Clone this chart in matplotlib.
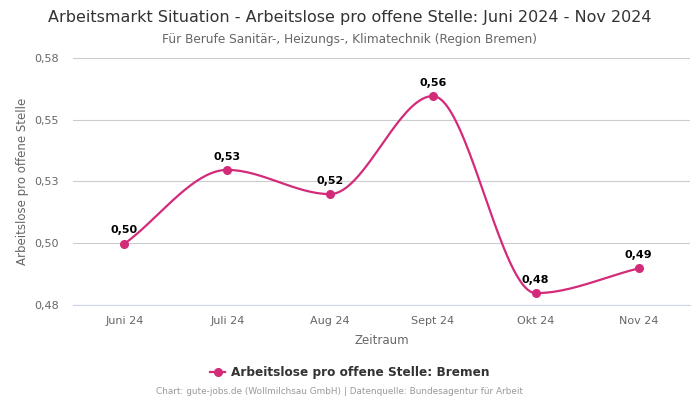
import numpy as np
import matplotlib
matplotlib.use("Agg")
import matplotlib.pyplot as plt
from matplotlib.lines import Line2D

# data
months = ["Juni 24", "Juli 24", "Aug 24", "Sept 24", "Okt 24", "Nov 24"]
values = [0.5048, 0.5347, 0.5249, 0.5646, 0.4848, 0.4948]
ytick_vals = [0.48, 0.505, 0.53, 0.555, 0.58]
ytick_labels = ["0,48", "0,50", "0,53", "0,55", "0,58"]

line_col = "#d42a7a"


def monotone_curve(x, y, n=40):
    # monotone cubic (Fritsch-Carlson) like d3 curveMonotoneX
    x = np.asarray(x, float)
    y = np.asarray(y, float)
    h = np.diff(x)
    d = np.diff(y) / h
    m = np.zeros_like(y)
    m[0], m[-1] = d[0], d[-1]
    for i in range(1, len(y) - 1):
        if d[i - 1] * d[i] <= 0:
            m[i] = 0
        else:
            m[i] = 3 * (h[i - 1] + h[i]) / ((2 * h[i] + h[i - 1]) / d[i - 1] + (h[i] + 2 * h[i - 1]) / d[i])
    xs, ys = [], []
    for i in range(len(x) - 1):
        t = np.linspace(0, 1, n)
        h00 = 2 * t**3 - 3 * t**2 + 1
        h10 = t**3 - 2 * t**2 + t
        h01 = -2 * t**3 + 3 * t**2
        h11 = t**3 - t**2
        xs.append(x[i] + t * h[i])
        ys.append(h00 * y[i] + h10 * h[i] * m[i] + h01 * y[i + 1] + h11 * h[i] * m[i + 1])
    return np.concatenate(xs), np.concatenate(ys)


fig = plt.figure(figsize=(7, 4), dpi=100)
ax = fig.add_axes([0.1043, 0.2375, 0.8814, 0.6175])

xpos = np.arange(len(months))
cx, cy = monotone_curve(xpos, values)
ax.plot(cx, cy, color=line_col, lw=1.6, zorder=3)
ax.plot(xpos, values, "o", color=line_col, ms=5.5, zorder=4)

for x, v in zip(xpos, values):
    ax.annotate(f"{v:.2f}".replace(".", ","), (x, v), xytext=(0, 6), textcoords="offset points",
                ha="center", va="bottom", fontsize=8, fontweight="bold", color="black")

ax.set_xlim(-0.5, len(months) - 0.5)
ax.set_ylim(0.48, 0.58)
ax.set_xticks(xpos)
ax.set_xticklabels(months)
ax.set_yticks(ytick_vals)
ax.set_yticklabels(ytick_labels)
ax.tick_params(axis="both", length=0, labelsize=8, labelcolor="#666666")
ax.tick_params(axis="x", pad=8)
ax.tick_params(axis="y", pad=10)
ax.grid(axis="y", color="#cccccc", lw=0.8)
ax.set_axisbelow(True)
for s in ["top", "right", "left"]:
    ax.spines[s].set_visible(False)
ax.spines["bottom"].set_color("#ccd6eb")
ax.spines["bottom"].set_linewidth(0.8)

ax.set_xlabel("Zeitraum", fontsize=8.5, color="#666666", labelpad=6)
ax.set_ylabel("Arbeitslose pro offene Stelle", fontsize=8.5, color="#666666", labelpad=4)

fig.text(0.5, 0.957, "Arbeitsmarkt Situation - Arbeitslose pro offene Stelle: Juni 2024 - Nov 2024",
         ha="center", va="center", fontsize=11.5, color="#333333")
fig.text(0.5, 0.9, "Für Berufe Sanitär-, Heizungs-, Klimatechnik (Region Bremen)",
         ha="center", va="center", fontsize=8.7, color="#666666")

handle = Line2D([0], [0], color=line_col, lw=1.6, marker="o", ms=5.5)
fig.legend([handle], ["Arbeitslose pro offene Stelle: Bremen"], loc="center", bbox_to_anchor=(0.5, 0.068),
           frameon=False, prop={"weight": "bold", "size": 8.7}, labelcolor="#333333",
           handlelength=1.2, handletextpad=0.5)

fig.text(0.485, 0.02, "Chart: gute-jobs.de (Wollmilchsau GmbH) | Datenquelle: Bundesagentur für Arbeit",
         ha="center", va="center", fontsize=6.4, color="#999999")

fig.savefig("out.png", dpi=100)
